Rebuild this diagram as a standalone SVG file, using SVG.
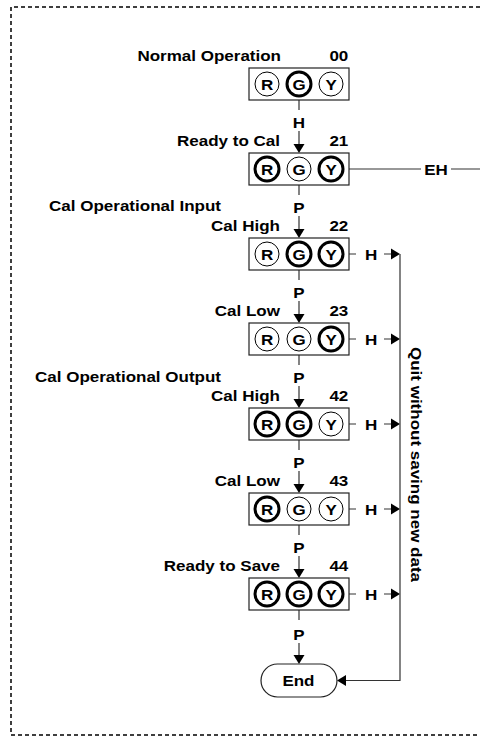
<svg xmlns="http://www.w3.org/2000/svg" width="480" height="740" viewBox="0 0 480 740">
<style>
text{font-family:"Liberation Sans",Arial,sans-serif;font-weight:bold;font-size:15px;fill:#000}
.box{fill:#fff;stroke:#222;stroke-width:1.2}
.thin{fill:#fff;stroke:#000;stroke-width:1}
.thick{fill:#fff;stroke:#000;stroke-width:3}
.ln{fill:none;stroke:#333;stroke-width:1.2}
.ah{fill:#000}
</style>
<rect width="480" height="740" fill="#fff"/>
<path d="M480 7H11V735H480" fill="none" stroke="#000" stroke-width="1.5" stroke-dasharray="4 3"/>
<defs>
<path id="ad" d="M-5.5 -9L5.5 -9L0 0Z"/>
<path id="ar" d="M-9 -5.5L-9 5.5L0 0Z"/>
</defs>
<g id="connectors">
<path class="ln" d="M299 100V110M299 131V145"/><use href="#ad" x="299" y="153" class="ah"/>
<text x="292.8" y="128" textLength="12.3" lengthAdjust="spacingAndGlyphs">H</text>
<path class="ln" d="M299 185V195M299 216V230"/><use href="#ad" x="299" y="238" class="ah"/>
<text x="293.3" y="213" textLength="11.3" lengthAdjust="spacingAndGlyphs">P</text>
<path class="ln" d="M299 270V280M299 301V315"/><use href="#ad" x="299" y="323" class="ah"/>
<text x="293.3" y="298" textLength="11.3" lengthAdjust="spacingAndGlyphs">P</text>
<path class="ln" d="M299 355V365M299 386V400"/><use href="#ad" x="299" y="408" class="ah"/>
<text x="293.3" y="383" textLength="11.3" lengthAdjust="spacingAndGlyphs">P</text>
<path class="ln" d="M299 440V450M299 471V485"/><use href="#ad" x="299" y="493" class="ah"/>
<text x="293.3" y="468" textLength="11.3" lengthAdjust="spacingAndGlyphs">P</text>
<path class="ln" d="M299 525V535M299 556V570"/><use href="#ad" x="299" y="578" class="ah"/>
<text x="293.3" y="553" textLength="11.3" lengthAdjust="spacingAndGlyphs">P</text>
<path class="ln" d="M299 610V620M299 643V656"/><use href="#ad" x="299" y="664" class="ah"/>
<text x="293.3" y="640" textLength="11.3" lengthAdjust="spacingAndGlyphs">P</text>
<path class="ln" d="M349 169H421M451 169H480"/>
<text x="424.2" y="174.5" textLength="23.6" lengthAdjust="spacingAndGlyphs">EH</text>
<path class="ln" d="M349 254H356M384 254H392M349 339H356M384 339H392M349 424H356M384 424H392M349 509H356M384 509H392M349 594H356M384 594H392"/>
<use href="#ar" x="400" y="254" class="ah"/><use href="#ar" x="400" y="339" class="ah"/><use href="#ar" x="400" y="424" class="ah"/><use href="#ar" x="400" y="509" class="ah"/><use href="#ar" x="400" y="594" class="ah"/>
<text x="364.9" y="259.5" textLength="12.3" lengthAdjust="spacingAndGlyphs">H</text>
<text x="364.9" y="344.5" textLength="12.3" lengthAdjust="spacingAndGlyphs">H</text>
<text x="364.9" y="429.5" textLength="12.3" lengthAdjust="spacingAndGlyphs">H</text>
<text x="364.9" y="514.5" textLength="12.3" lengthAdjust="spacingAndGlyphs">H</text>
<text x="364.9" y="599.5" textLength="12.3" lengthAdjust="spacingAndGlyphs">H</text>
<path class="ln" d="M400 254V680.5H346"/><use href="#ar" x="337" y="680.5" class="ah" transform="rotate(180 337 680.5)"/>
<text transform="translate(411 347) rotate(90)" x="0" y="0" textLength="235" lengthAdjust="spacingAndGlyphs">Quit without saving new data</text>
</g>
<g id="n00">
<text x="137.4" y="61" textLength="143.6" lengthAdjust="spacingAndGlyphs">Normal Operation</text>
<text x="329.4" y="61" textLength="18.9" lengthAdjust="spacingAndGlyphs">00</text>
<rect class="box" x="249" y="68" width="100" height="32"/>
<circle class="thin" cx="267" cy="84" r="12"/><circle class="thick" cx="299" cy="84" r="12"/><circle class="thin" cx="331" cy="84" r="12"/>
<text x="260.9" y="89.5" textLength="12.3" lengthAdjust="spacingAndGlyphs">R</text><text x="292.4" y="89.5" textLength="13.2" lengthAdjust="spacingAndGlyphs">G</text><text x="325.4" y="89.5" textLength="11.3" lengthAdjust="spacingAndGlyphs">Y</text>
</g>
<g id="n21">
<text x="177" y="146" textLength="103" lengthAdjust="spacingAndGlyphs">Ready to Cal</text>
<text x="329.4" y="146" textLength="18.9" lengthAdjust="spacingAndGlyphs">21</text>
<rect class="box" x="249" y="153" width="100" height="32"/>
<circle class="thick" cx="267" cy="169" r="12"/><circle class="thin" cx="299" cy="169" r="12"/><circle class="thick" cx="331" cy="169" r="12"/>
<text x="260.9" y="174.5" textLength="12.3" lengthAdjust="spacingAndGlyphs">R</text><text x="292.4" y="174.5" textLength="13.2" lengthAdjust="spacingAndGlyphs">G</text><text x="325.4" y="174.5" textLength="11.3" lengthAdjust="spacingAndGlyphs">Y</text>
</g>
<g id="grp-input">
<text x="49" y="211" textLength="172" lengthAdjust="spacingAndGlyphs">Cal Operational Input</text>
</g>
<g id="n22">
<text x="211" y="231" textLength="69" lengthAdjust="spacingAndGlyphs">Cal High</text>
<text x="329.4" y="231" textLength="18.9" lengthAdjust="spacingAndGlyphs">22</text>
<rect class="box" x="249" y="238" width="100" height="32"/>
<circle class="thin" cx="267" cy="254" r="12"/><circle class="thick" cx="299" cy="254" r="12"/><circle class="thick" cx="331" cy="254" r="12"/>
<text x="260.9" y="259.5" textLength="12.3" lengthAdjust="spacingAndGlyphs">R</text><text x="292.4" y="259.5" textLength="13.2" lengthAdjust="spacingAndGlyphs">G</text><text x="325.4" y="259.5" textLength="11.3" lengthAdjust="spacingAndGlyphs">Y</text>
</g>
<g id="n23">
<text x="214.8" y="316" textLength="65.2" lengthAdjust="spacingAndGlyphs">Cal Low</text>
<text x="329.4" y="316" textLength="18.9" lengthAdjust="spacingAndGlyphs">23</text>
<rect class="box" x="249" y="323" width="100" height="32"/>
<circle class="thin" cx="267" cy="339" r="12"/><circle class="thin" cx="299" cy="339" r="12"/><circle class="thick" cx="331" cy="339" r="12"/>
<text x="260.9" y="344.5" textLength="12.3" lengthAdjust="spacingAndGlyphs">R</text><text x="292.4" y="344.5" textLength="13.2" lengthAdjust="spacingAndGlyphs">G</text><text x="325.4" y="344.5" textLength="11.3" lengthAdjust="spacingAndGlyphs">Y</text>
</g>
<g id="grp-output">
<text x="35" y="382" textLength="186" lengthAdjust="spacingAndGlyphs">Cal Operational Output</text>
</g>
<g id="n42">
<text x="211" y="401" textLength="69" lengthAdjust="spacingAndGlyphs">Cal High</text>
<text x="329.4" y="401" textLength="18.9" lengthAdjust="spacingAndGlyphs">42</text>
<rect class="box" x="249" y="408" width="100" height="32"/>
<circle class="thick" cx="267" cy="424" r="12"/><circle class="thick" cx="299" cy="424" r="12"/><circle class="thin" cx="331" cy="424" r="12"/>
<text x="260.9" y="429.5" textLength="12.3" lengthAdjust="spacingAndGlyphs">R</text><text x="292.4" y="429.5" textLength="13.2" lengthAdjust="spacingAndGlyphs">G</text><text x="325.4" y="429.5" textLength="11.3" lengthAdjust="spacingAndGlyphs">Y</text>
</g>
<g id="n43">
<text x="214.8" y="486" textLength="65.2" lengthAdjust="spacingAndGlyphs">Cal Low</text>
<text x="329.4" y="486" textLength="18.9" lengthAdjust="spacingAndGlyphs">43</text>
<rect class="box" x="249" y="493" width="100" height="32"/>
<circle class="thick" cx="267" cy="509" r="12"/><circle class="thin" cx="299" cy="509" r="12"/><circle class="thin" cx="331" cy="509" r="12"/>
<text x="260.9" y="514.5" textLength="12.3" lengthAdjust="spacingAndGlyphs">R</text><text x="292.4" y="514.5" textLength="13.2" lengthAdjust="spacingAndGlyphs">G</text><text x="325.4" y="514.5" textLength="11.3" lengthAdjust="spacingAndGlyphs">Y</text>
</g>
<g id="n44">
<text x="163.8" y="571" textLength="116.2" lengthAdjust="spacingAndGlyphs">Ready to Save</text>
<text x="329.4" y="571" textLength="18.9" lengthAdjust="spacingAndGlyphs">44</text>
<rect class="box" x="249" y="578" width="100" height="32"/>
<circle class="thick" cx="267" cy="594" r="12"/><circle class="thick" cx="299" cy="594" r="12"/><circle class="thick" cx="331" cy="594" r="12"/>
<text x="260.9" y="599.5" textLength="12.3" lengthAdjust="spacingAndGlyphs">R</text><text x="292.4" y="599.5" textLength="13.2" lengthAdjust="spacingAndGlyphs">G</text><text x="325.4" y="599.5" textLength="11.3" lengthAdjust="spacingAndGlyphs">Y</text>
</g>
<g id="end">
<rect class="box" x="261" y="664" width="76" height="33" rx="16.5"/>
<text x="282.4" y="686" textLength="32.1" lengthAdjust="spacingAndGlyphs">End</text>
</g>
</svg>
